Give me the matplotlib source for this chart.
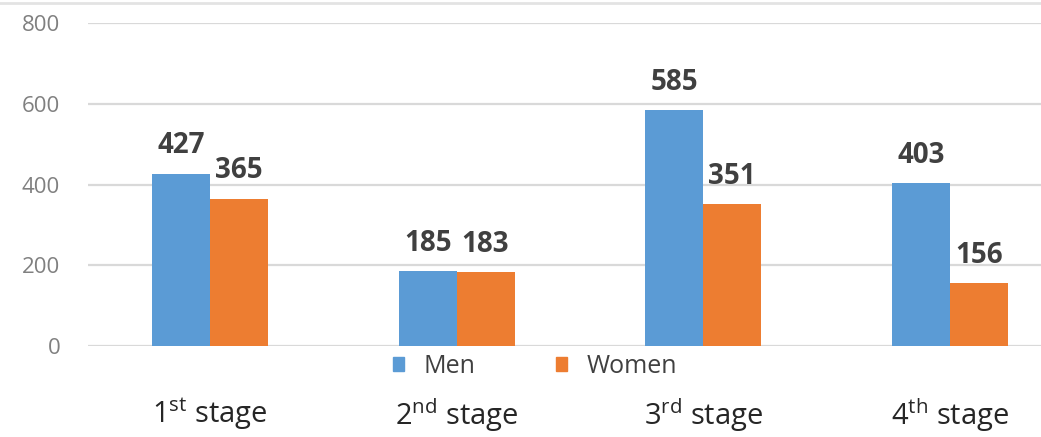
import numpy as np
import matplotlib
matplotlib.use("Agg")
import matplotlib.pyplot as plt
from matplotlib.patches import Patch
from matplotlib.lines import Line2D

plt.rcParams['font.family'] = ['Open Sans', 'DejaVu Sans']
plt.rcParams['mathtext.fontset'] = 'custom'
plt.rcParams['mathtext.rm'] = 'Open Sans'

stages = [r'1$^{\mathrm{st}}$ stage', r'2$^{\mathrm{nd}}$ stage',
          r'3$^{\mathrm{rd}}$ stage', r'4$^{\mathrm{th}}$ stage']
men = [427, 185, 585, 403]
women = [365, 183, 351, 156]
yticks = [0, 200, 400, 600, 800]

blue = '#5B9BD5'
orange = '#ED7D31'

fig = plt.figure(figsize=(10.41, 4.37), dpi=100)
ax = fig.add_axes([0.0845, 0.2082, 0.9155, 0.739])

x = np.arange(len(stages))
w = 0.235
b1 = ax.bar(x - w / 2, men, w, color=blue, zorder=3)
b2 = ax.bar(x + w / 2, women, w, color=orange, zorder=3)

for bars, vals in ((b1, men), (b2, women)):
    for r, v in zip(bars, vals):
        ax.annotate(str(v), (r.get_x() + r.get_width() / 2, v),
                    xytext=(0, 9.5), textcoords='offset points',
                    ha='center', va='bottom', fontsize=20,
                    fontweight='bold', color='#404040')

ax.set_xlim(-0.495, 3.37)
ax.set_ylim(0, 800)
ax.set_yticks(yticks)
ax.yaxis.grid(True, color='#D9D9D9', linewidth=1.6, zorder=0)
ax.tick_params(axis='y', length=0, pad=20, labelsize=16, labelcolor='#808080')
ax.set_xticks(x)
ax.set_xticklabels(stages)
ax.tick_params(axis='x', length=0, pad=36, labelsize=21, labelcolor='#262626')
for s in ax.spines.values():
    s.set_visible(False)

handles = [Patch(color=blue, label='Men'), Patch(color=orange, label='Women')]
fig.legend(handles=handles, loc='center', bbox_to_anchor=(0.514, 0.162),
           ncol=2, frameon=False, fontsize=18, handlelength=0.45,
           handleheight=0.45, handletextpad=0.8, columnspacing=3.2,
           labelcolor='#404040')

# thin rule along the top edge
fig.add_artist(Line2D([0, 1], [0.993, 0.993], color='#E3E3E3', linewidth=2))

fig.savefig('out.png', dpi=100)
